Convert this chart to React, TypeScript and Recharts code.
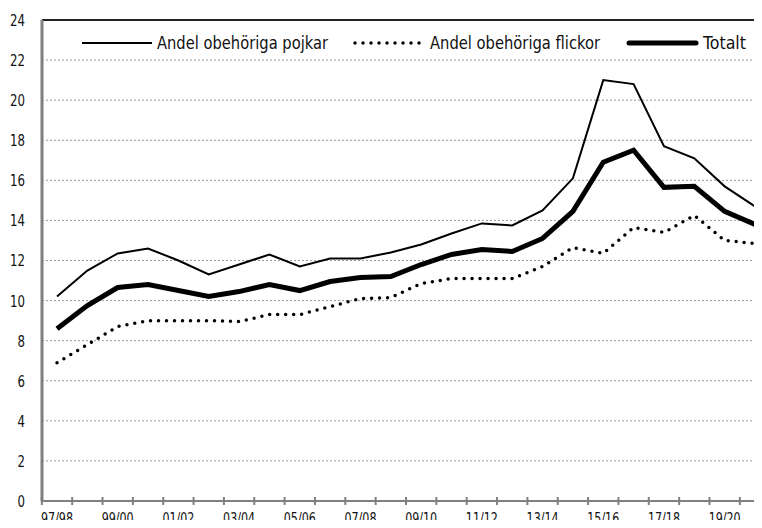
import React from 'react';
import { LineChart, Line, XAxis, YAxis, CartesianGrid, ReferenceLine } from 'recharts';

// läsår 97/98 .. 20/21
const years = [
  '97/98', '98/99', '99/00', '00/01', '01/02', '02/03', '03/04', '04/05',
  '05/06', '06/07', '07/08', '08/09', '09/10', '10/11', '11/12', '12/13',
  '13/14', '14/15', '15/16', '16/17', '17/18', '18/19', '19/20', '20/21',
];

const boys = [
  10.2, 11.5, 12.35, 12.6, 12.0, 11.3, 11.8, 12.3, 11.7, 12.1, 12.1, 12.4,
  12.8, 13.35, 13.85, 13.75, 14.5, 16.1, 21.0, 20.8, 17.7, 17.1, 15.7, 14.7,
];

const girls = [
  6.9, 7.8, 8.7, 9.0, 9.0, 9.0, 8.95, 9.3, 9.3, 9.7, 10.1, 10.15,
  10.85, 11.1, 11.1, 11.1, 11.7, 12.65, 12.35, 13.65, 13.4, 14.25, 13.0, 12.85,
];

const total = [
  8.6, 9.75, 10.65, 10.8, 10.5, 10.2, 10.45, 10.8, 10.5, 10.95, 11.15, 11.2,
  11.8, 12.3, 12.55, 12.45, 13.1, 14.45, 16.9, 17.5, 15.65, 15.7, 14.45, 13.8,
];

const yTicks = [0, 2, 4, 6, 8, 10, 12, 14, 16, 18, 20, 22, 24];

const data = years.map((year, i) => ({
  year,
  boys: boys[i],
  girls: girls[i],
  total: total[i],
}));

const FONT = '"DejaVu Sans Condensed", "Liberation Sans", sans-serif';
const HALF_STEP = 15.17;
const AXIS_GREY = '#808080';
const DIGIT_W = 7.5;

function YearTick(props: any) {
  const { x, y, payload, index } = props;
  const i = payload?.index ?? index;
  return (
    <g>
      <line
        x1={x - HALF_STEP}
        x2={x - HALF_STEP}
        y1={y - 4}
        y2={y + 4}
        stroke={AXIS_GREY}
        strokeWidth={2}
      />
      {i % 2 === 0 && (
        <text
          x={x}
          y={y + 22.5}
          textAnchor="middle"
          fontSize={16}
          fontFamily={FONT}
          fill="#111"
          textLength={32}
          lengthAdjust="spacingAndGlyphs"
        >
          {payload.value}
        </text>
      )}
    </g>
  );
}

function ValueTick(props: any) {
  const { x, y, payload } = props;
  const label = String(payload.value);
  return (
    <text
      x={x}
      y={y}
      dy="0.36em"
      textAnchor="end"
      fontSize={16.5}
      fontFamily={FONT}
      fill="#111"
      textLength={label.length * DIGIT_W}
      lengthAdjust="spacingAndGlyphs"
    >
      {label}
    </text>
  );
}

function LegendOverlay() {
  return (
    <svg
      width={762}
      height={60}
      style={{ position: 'absolute', left: 0, top: 0, pointerEvents: 'none' }}
    >
      <g fontFamily={FONT} fontSize={18.5} fill="#111">
        <line x1={82} x2={152} y1={43} y2={43} stroke="#000" strokeWidth={2} />
        <text x={157} y={49} textLength={171} lengthAdjust="spacingAndGlyphs">
          Andel obehöriga pojkar
        </text>
        <line
          x1={355}
          x2={425}
          y1={43}
          y2={43}
          stroke="#000"
          strokeWidth={3.5}
          strokeDasharray="0 8"
          strokeLinecap="round"
        />
        <text x={430} y={49} textLength={170} lengthAdjust="spacingAndGlyphs">
          Andel obehöriga flickor
        </text>
        <line x1={629} x2={696} y1={43} y2={43} stroke="#000" strokeWidth={5} strokeLinecap="round" />
        <text x={703} y={49} textLength={43} lengthAdjust="spacingAndGlyphs">
          Totalt
        </text>
      </g>
    </svg>
  );
}

export default function App() {
  return (
    <div
      style={{
        margin: -8,
        width: 762,
        height: 528,
        overflow: 'hidden',
        position: 'relative',
        background: '#fff',
      }}
    >
      <LineChart
        width={780}
        height={528}
        data={data}
        margin={{ top: 20, right: 10, bottom: 0, left: 0 }}
      >
        <CartesianGrid
          horizontal
          vertical={false}
          stroke="#9a9a9a"
          strokeDasharray="2 2"
        />
        <XAxis
          dataKey="year"
          scale="point"
          padding={{ left: 15, right: 15 }}
          interval={0}
          height={27}
          tickSize={0}
          tickMargin={0}
          tickLine={false}
          axisLine={{ stroke: AXIS_GREY, strokeWidth: 2 }}
          tick={<YearTick />}
        />
        <YAxis
          width={42}
          domain={[0, 24]}
          ticks={yTicks}
          interval={0}
          tickLine={false}
          tickSize={0}
          tickMargin={17}
          axisLine={{ stroke: AXIS_GREY, strokeWidth: 3 }}
          tick={<ValueTick />}
        />
        <ReferenceLine y={24} stroke="#222" strokeWidth={2} />
        <Line
          type="linear"
          dataKey="boys"
          stroke="#000"
          strokeWidth={2}
          dot={false}
          isAnimationActive={false}
        />
        <Line
          type="linear"
          dataKey="girls"
          stroke="#000"
          strokeWidth={3.5}
          strokeDasharray="0 8"
          strokeLinecap="round"
          dot={false}
          isAnimationActive={false}
        />
        <Line
          type="linear"
          dataKey="total"
          stroke="#000"
          strokeWidth={5}
          dot={false}
          isAnimationActive={false}
        />
      </LineChart>
      <LegendOverlay />
    </div>
  );
}
